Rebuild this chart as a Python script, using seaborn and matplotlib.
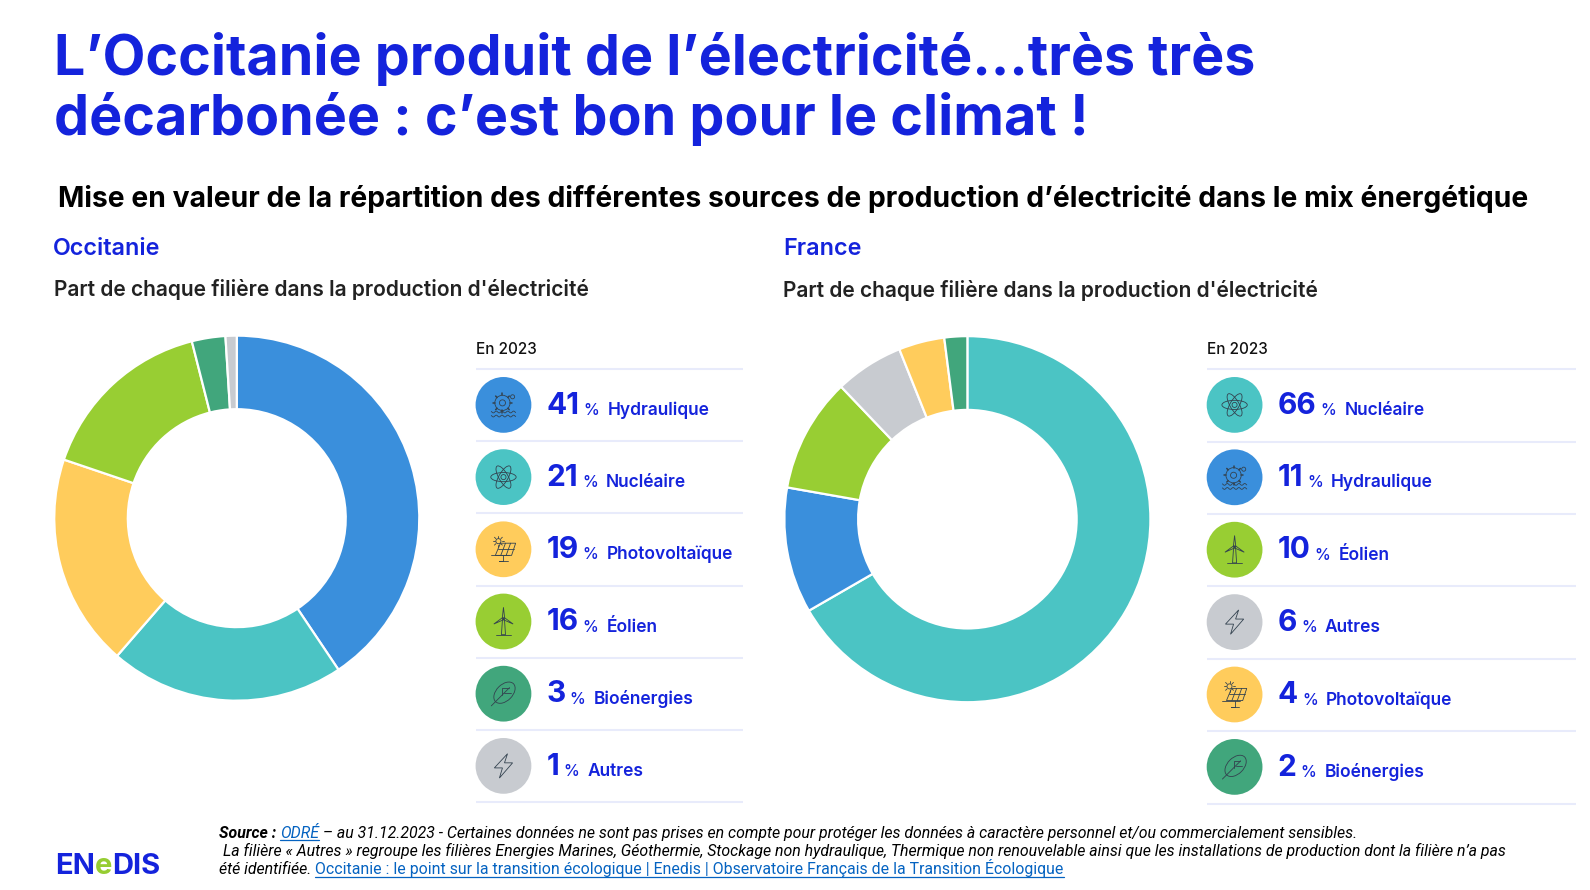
import numpy as np
import matplotlib
matplotlib.use("Agg")
import matplotlib.pyplot as plt
from matplotlib.patches import Circle, Ellipse, Polygon
import seaborn as sns

sns.set_theme(style="white")
plt.rcParams['font.family'] = ['Inter', 'DejaVu Sans']

# ---------- data ----------
occ_labels = ["Hydraulique", "Nucléaire", "Photovoltaïque", "Éolien", "Bioénergies", "Autres"]
occ_values = [41, 21, 19, 16, 3, 1]
fr_labels = ["Nucléaire", "Hydraulique", "Éolien", "Autres", "Photovoltaïque", "Bioénergies"]
fr_values = [66, 11, 10, 6, 4, 2]
filiere_names = ["Hydraulique", "Nucléaire", "Photovoltaïque", "Éolien", "Bioénergies", "Autres"]
filiere_colors = ["#3A8FDC", "#4BC4C4", "#FFCC5C", "#98CE33", "#41A67C", "#C8CBD0"]
palette = dict(zip(filiere_names, sns.color_palette(filiere_colors)))

BLUE = "#1423DC"
INK = "#33424F"
W, H = 1568, 877.7

fig = plt.figure(figsize=(15.9, 8.9), dpi=100, facecolor="white")
ax = fig.add_axes([0, 0, 1, 1])
ax.set_xlim(0, W)
ax.set_ylim(H, 0)
ax.axis("off")


def text(x, y, s, size, color="black", weight="normal", va="baseline", **kw):
    return ax.text(x, y, s, fontsize=size, color=color, fontweight=weight, va=va, ha="left", **kw)


def right_of(t):
    fig.canvas.draw_idle()
    bb = t.get_window_extent(fig.canvas.get_renderer())
    return bb.x1 * W / fig.bbox.width


# ---------- icons ----------
def icon(kind, cx, cy):
    st = dict(color=INK, lw=0.6, solid_capstyle="round")
    pt = dict(fill=False, ec=INK, lw=0.6)
    if kind == "Hydraulique":
        ax.add_patch(Circle((cx - 1, cy - 2), 3, **pt))
        ax.add_patch(Circle((cx - 1, cy - 2), 7.5, **pt))
        for a in np.linspace(0, 2 * np.pi, 9)[:-1]:
            ax.plot([cx - 1 + 7.5 * np.cos(a), cx - 1 + 9.5 * np.cos(a)],
                    [cy - 2 + 7.5 * np.sin(a), cy - 2 + 9.5 * np.sin(a)], lw=1.1, color=INK)
        ax.add_patch(Circle((cx + 9, cy - 8), 2, **pt))
        t = np.linspace(-12, 12, 50)
        for dy in (7, 11):
            ax.plot(cx + t, cy + dy + 0.9 * np.sin(t * 1.1), **st)
    elif kind == "Nucléaire":
        ax.add_patch(Circle((cx, cy), 2.5, **pt))
        for ang in (0, 60, 120):
            ax.add_patch(Ellipse((cx, cy), 25, 9, angle=ang, **pt))
    elif kind == "Photovoltaïque":
        ax.add_patch(Polygon([(cx - 8, cy + 6), (cx + 8, cy + 6), (cx + 12, cy - 6), (cx - 3, cy - 6)], **pt))
        for f in (1 / 3, 2 / 3):
            ax.plot([cx - 8 + 16 * f, cx - 3 + 15 * f], [cy + 6, cy - 6], **st)
        ax.plot([cx - 5.5, cx + 10], [cy, cy], **st)
        ax.plot([cx - 12, cx + 5], [cy + 6, cy + 6], **st)
        ax.plot([cx, cx, cx - 4, cx + 4], [cy + 6, cy + 12, cy + 12, cy + 12], **st)
        ax.add_patch(Circle((cx - 5, cy - 8), 2.5, **pt))
        for a in np.linspace(0, 2 * np.pi, 9)[:-1]:
            ax.plot([cx - 5 + 3.5 * np.cos(a), cx - 5 + 5.5 * np.cos(a)],
                    [cy - 8 + 3.5 * np.sin(a), cy - 8 + 5.5 * np.sin(a)], **st)
    elif kind == "Éolien":
        ax.add_patch(Polygon([(cx - 1, cy - 2), (cx + 1, cy - 2), (cx + 2, cy + 13), (cx - 2, cy + 13)], **pt))
        for a in (-90, 30, 150):
            r = np.radians(a)
            ax.add_patch(Polygon([(cx + 1.2 * np.sin(r), cy - 3 - 1.2 * np.cos(r)),
                                  (cx + 11 * np.cos(r), cy - 3 + 11 * np.sin(r)),
                                  (cx - 1.2 * np.sin(r), cy - 3 + 1.2 * np.cos(r))], **pt))
        ax.plot([cx - 7, cx + 7], [cy + 13, cy + 13], **st)
    elif kind == "Bioénergies":
        ax.add_patch(Ellipse((cx + 1, cy - 1), 25, 16, angle=-45, **pt))
        ax.plot([cx - 12, cx + 6], [cy + 12, cy - 6], **st)
        ax.plot([cx - 1, cx - 1, cx + 5], [cy + 1, cy - 6, cy - 6], **st)
        ax.plot([cx + 1, cx + 7], [cy - 1, cy - 1], **st)
    else:
        ax.add_patch(Polygon([(cx + 4, cy - 12), (cx - 9, cy + 2), (cx - 1, cy + 2), (cx - 4, cy + 12),
                              (cx + 9, cy - 3), (cx + 1, cy - 3)], **pt))


# ---------- donuts ----------
def donut(cx, cy, R, labels, values):
    size_x, size_y = 2 * R / W, 2 * R / H
    a = fig.add_axes([(cx - R) / W, 1 - (cy + R) / H, size_x, size_y])
    a.pie(values, colors=[palette[l] for l in labels], startangle=90, counterclock=False,
          radius=1, wedgeprops=dict(width=0.403, edgecolor="white", linewidth=1.6))
    a.set_xlim(-1, 1)
    a.set_ylim(-1, 1)


donut(233.5, 511, 180, occ_labels, occ_values)
donut(954, 512, 180.5, fr_labels, fr_values)


# ---------- legend tables ----------
def table(x0, x1, ytop, step, labels, values):
    text(x0, ytop - 15, "En 2023", 11, color="#111111", weight="medium")
    for i in range(len(labels) + 1):
        y = ytop + i * step
        ax.plot([x0, x1], [y, y], color="#E8EBFB", lw=1.5, solid_capstyle="butt")
    for i, (lab, v) in enumerate(zip(labels, values)):
        yc = ytop + step * i + 35.3
        ax.add_patch(Circle((x0 + 27.5, yc), 27.5, fc=palette[lab], ec="none"))
        icon(lab, x0 + 27.5, yc)
        n = text(x0 + 70, yc + 8.5, str(v), 21.5, color=BLUE, weight="bold")
        xr = right_of(n)
        p = text(xr + 4, yc + 10, "%", 11.5, color=BLUE, weight="medium")
        xr = right_of(p)
        text(xr + 8, yc + 10, lab, 12.5, color=BLUE, weight="semibold")


table(469, 733, 364, 71.2, occ_labels, occ_values)
table(1190, 1554, 364, 71.4, fr_labels, fr_values)

# ---------- titles ----------
text(53, 74, "L’Occitanie produit de l’électricité…très très", 40, color=BLUE, weight="bold")
text(53, 133, "décarbonée : c’est bon pour le climat !", 40, color=BLUE, weight="bold")
text(57, 204, "Mise en valeur de la répartition des différentes sources de production d’électricité dans le mix énergétique",
     20.35, color="black", weight="bold")
text(52, 251, "Occitanie", 16.8, color=BLUE, weight="semibold")
text(772, 251, "France", 16.8, color=BLUE, weight="semibold")
sub = "Part de chaque filière dans la production d'électricité"
text(53, 292, sub, 15.1, color="#222222", weight="semibold")
text(772, 293, sub, 15.1, color="#222222", weight="semibold")

# ---------- footer ----------
LINK = "#0563C1"
FS = 11.4


def run(x, y, s, color="black", weight="normal", style="italic", underline=False):
    t = text(x, y, s, FS, color=color, weight=weight, style=style, family="Roboto")
    xr = right_of(t)
    if underline:
        ax.plot([x, xr], [y + 2.5, y + 2.5], color=color, lw=0.9)
    return xr


xr = run(216, 826, "Source : ", weight="bold")
xr = run(xr, 826, "ODRÉ", color=LINK, underline=True)
run(xr, 826, " – au 31.12.2023 - Certaines données ne sont pas prises en compte pour protéger les données à caractère personnel et/ou commercialement sensibles.")
run(220, 844, "La filière « Autres » regroupe les filières Energies Marines, Géothermie, Stockage non hydraulique, Thermique non renouvelable ainsi que les installations de production dont la filière n’a pas")
xr = run(216, 862, "été identifiée. ")
run(xr, 862, "Occitanie : le point sur la transition écologique | Enedis | Observatoire Français de la Transition Écologique",
    color=LINK, style="normal", underline=True)

# ---------- logo ----------
xr = text(54, 862, "EN", 21, color=BLUE, weight="bold")
x2 = right_of(xr)
g = text(x2, 862, "e", 21, color="#96CD32", weight="bold")
x3 = right_of(g)
text(x3, 862, "DIS", 21, color=BLUE, weight="bold")

fig.savefig("out.png", dpi=100)
